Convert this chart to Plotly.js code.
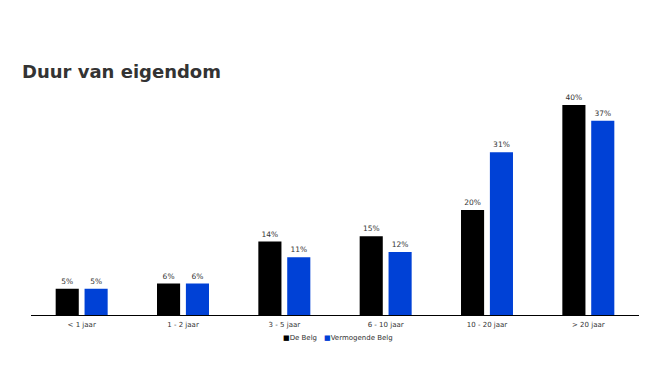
<!DOCTYPE html>
<html>
<head>
<meta charset="utf-8">
<script src="https://cdn.plot.ly/plotly-3.0.1.min.js"></script>
<style>html,body{margin:0;padding:0;background:#fff;}#chart{width:650px;height:367px;}</style>
</head>
<body>
<div id="chart"></div>
<script>
const categories = ["< 1 jaar", "1 - 2 jaar", "3 - 5 jaar", "6 - 10 jaar", "10 - 20 jaar", "> 20 jaar"];
const deBelg = [5, 6, 14, 15, 20, 40];
const vermogendeBelg = [5, 6, 11, 12, 31, 37];
const seriesNames = ["De Belg", "Vermogende Belg"];
const seriesColors = ["#000000", "#0041D6"];

const fontFam = "DejaVu Sans, Verdana, sans-serif";
function mk(name, vals, color) {
  return {
    type: "bar", name: name, x: categories, y: vals,
    marker: {color: color},
    text: vals.map(v => v + "%"), textposition: "outside",
    textfont: {size: 7.5, color: "#333", family: fontFam},
    cliponaxis: false, hoverinfo: "none", showlegend: false
  };
}
const data = [mk(seriesNames[0], deBelg, seriesColors[0]), mk(seriesNames[1], vermogendeBelg, seriesColors[1])];
const legendItems = seriesNames.map((n, i) => ({
  xref: "paper", yref: "paper", x: i === 0 ? 0.474 : 0.479,
  xanchor: i === 0 ? "right" : "left",
  y: -(338 - 315) / (315 - 84), yanchor: "middle", showarrow: false,
  text: '<span style="color:' + seriesColors[i] + ';font-size:7px">■</span>' + n,
  font: {size: 7, color: "#333", family: fontFam}
}));
const layout = {
  width: 650, height: 367,
  margin: {l: 31, r: 11, t: 84, b: 52, autoexpand: false},
  paper_bgcolor: "#fff", plot_bgcolor: "#fff",
  barmode: "group", bargap: 0.43, bargroupgap: 0.2,
  title: {text: "<b>Duur van eigendom</b>", x: 22/650, xanchor: "left", y: 1 - 72/367, yanchor: "middle",
          font: {size: 18, color: "#333", family: fontFam}},
  xaxis: {showline: true, linecolor: "#000", linewidth: 1, ticks: "", showgrid: false,
          ticklabelstandoff: 3,
          tickfont: {size: 7, color: "#333", family: fontFam}},
  yaxis: {range: [0, 44], visible: false, showgrid: false, zeroline: false},
  showlegend: false,
  annotations: legendItems,
  font: {family: fontFam}
};
Plotly.newPlot("chart", data, layout, {displayModeBar: false, staticPlot: true});
</script>
</body>
</html>
